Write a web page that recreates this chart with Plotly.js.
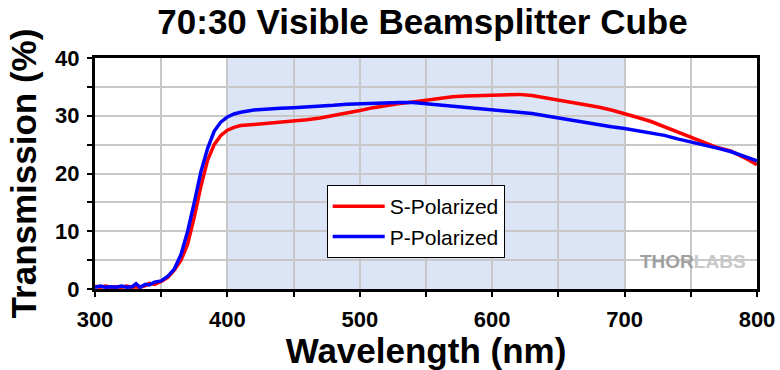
<!DOCTYPE html>
<html><head><meta charset="utf-8">
<script src="https://cdn.plot.ly/plotly-3.0.1.min.js"></script>
<style>html,body{margin:0;padding:0;background:#fff}#chart{width:780px;height:370px}</style>
</head><body><div id="chart"></div>
<script>
const wavelength = [300,304,308,312,316,320,324,328,331,334,338,341,345,350,355,360,365,370,375,380,385,390,395,400,405,410,420,430,440,450,460,470,480,490,500,510,520,530,540,550,560,570,580,590,600,610,620,630,640,650,660,670,680,690,700,710,720,730,740,750,760,770,780,790,800];
const sPolarized = [0.5,0.3,0.5,0.3,0.4,0.3,0.5,0.3,0.4,0.3,0.6,1.0,0.8,1.3,2.0,3.3,5.0,7.8,12.5,17.8,22.3,25.0,26.6,27.5,28.0,28.3,28.5,28.7,28.8,29.0,29.3,29.6,30.0,30.5,30.9,31.4,31.8,32.1,32.4,32.7,33.0,33.3,33.4,33.5,33.6,33.7,33.7,33.5,33.1,32.7,32.3,32.0,31.5,31.0,30.4,29.7,29.0,28.1,27.2,26.2,25.3,24.5,23.9,22.8,21.5];
const pPolarized = [0.3,0.5,0.3,0.4,0.3,0.5,0.3,0.4,0.9,0.3,0.8,0.7,1.2,1.4,2.2,3.5,6.0,10.0,15.0,20.3,24.3,27.3,28.9,29.8,30.3,30.6,31.0,31.2,31.3,31.4,31.5,31.6,31.8,32.0,32.1,32.2,32.3,32.3,32.3,32.1,31.9,31.7,31.5,31.3,31.1,30.9,30.7,30.4,30.0,29.6,29.3,28.9,28.5,28.1,27.8,27.4,27.0,26.6,26.0,25.5,24.9,24.4,23.8,23.0,22.2];
const seriesNames = ['S-Polarized','P-Polarized'];
const band = [400,700];

const font = 'Liberation Sans, Arial, sans-serif';
const traces = [
  {x: wavelength, y: sPolarized, name: seriesNames[0], mode:'lines', line:{color:'#ff0000', width:3.5}},
  {x: wavelength, y: pPolarized, name: seriesNames[1], mode:'lines', line:{color:'#0000ff', width:3.5}}
];
const tickCommon = {ticks:'outside', ticklen:5, tickwidth:2, tickcolor:'#000'};
const layout = {
  width:780, height:370,
  margin:{l:95, r:23, t:58, b:81},
  paper_bgcolor:'#fff', plot_bgcolor:'#fff',
  title:{text:'<b>70:30 Visible Beamsplitter Cube</b>', font:{family:font, size:35, color:'#000'}, x:0.5417, xanchor:'center', y:0.94, yanchor:'middle'},
  xaxis:Object.assign({range:[300,800], dtick:100, tick0:300, showgrid:true, gridcolor:'#c8c8c8', gridwidth:2,
    minor:Object.assign({dtick:50, showgrid:true, gridcolor:'#c8c8c8', gridwidth:2}, tickCommon),
    showline:true, linecolor:'#000', linewidth:3, mirror:true, zeroline:false, ticklabelstandoff:4,
    tickfont:{family:font, size:22, color:'#000', weight:'bold'},
    title:{text:'<b>Wavelength (nm)</b>', font:{family:font, size:35, color:'#000'}, standoff:4}}, tickCommon),
  yaxis:Object.assign({range:[0,40], dtick:10, showgrid:true, gridcolor:'#c8c8c8', gridwidth:2,
    minor:Object.assign({dtick:5, showgrid:true, gridcolor:'#c8c8c8', gridwidth:2}, tickCommon),
    showline:true, linecolor:'#000', linewidth:3, mirror:true, zeroline:false, ticklabelstandoff:3,
    tickfont:{family:font, size:22, color:'#000', weight:'bold'},
    title:{text:'<b>Transmission (%)</b>', font:{family:font, size:35, color:'#000'}, standoff:8}}, tickCommon),
  shapes:[{type:'rect', xref:'x', yref:'paper', x0:band[0], x1:band[1], y0:0, y1:1, fillcolor:'#dce5f6', line:{width:0}, layer:'below'}],
  legend:{x:0.350, y:0.45, xanchor:'left', yanchor:'top', bgcolor:'#fff', bordercolor:'#000', borderwidth:1,
    font:{family:font, size:21, color:'#000'}, tracegroupgap:0, itemwidth:52},
  showlegend:true,
  annotations:[{xref:'paper', yref:'paper', x:0.903, y:0.121, xanchor:'center', yanchor:'middle', showarrow:false,
    text:'<b>THOR</b><span style="color:#c8c8c8"><b>LABS</b></span>', font:{family:font, size:19, color:'#a0a0a0'}}]
};
Plotly.newPlot('chart', traces, layout, {displayModeBar:false, staticPlot:true});
</script></body></html>
